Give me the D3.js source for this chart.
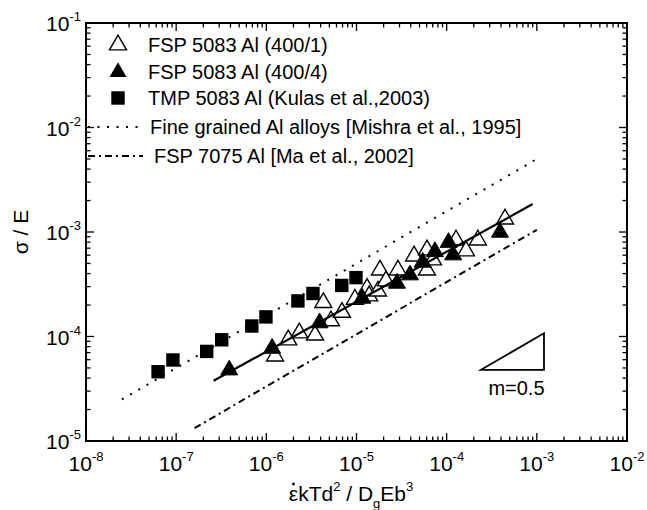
<!DOCTYPE html>
<html><head><meta charset="utf-8">
<script src="https://cdn.jsdelivr.net/npm/d3@7"></script>
<style>body{margin:0;background:#fff}svg{display:block}text{font-family:"Liberation Sans",Arial,sans-serif;fill:#000}</style>
</head><body>
<svg id="c" width="647" height="510"></svg>
<script>
// ---- data ----
const open400_1 = [
  [1.25e-6,6.5e-5],[1.75e-6,9.27e-5],[2.32e-6,1.08e-4],[3.47e-6,1.03e-4],[4.29e-6,2.11e-4],
  [5.21e-6,1.41e-4],[6.9e-6,1.70e-4],[9.6e-6,2.27e-4],[1.31e-5,2.89e-4],[1.38e-5,2.44e-4],
  [1.73e-5,2.72e-4],[1.82e-5,4.32e-4],[2.12e-5,3.40e-4],[2.88e-5,4.32e-4],[4.35e-5,5.89e-4],
  [6.05e-5,4.32e-4],[6.05e-5,6.73e-4],[7.05e-5,5.40e-4],[1.27e-4,8.37e-4],[1.64e-4,6.58e-4],
  [2.22e-4,8.37e-4],[4.44e-4,1.33e-3]
];
const filled400_4 = [
  [3.88e-7,4.78e-5],[1.16e-6,7.7e-5],[3.89e-6,1.35e-4],[1.16e-5,2.32e-4],[2.81e-5,3.23e-4],
  [3.92e-5,3.88e-4],[5.42e-5,5.13e-4],[7.41e-5,6.48e-4],[1.05e-4,7.94e-4],[1.18e-4,6.03e-4],
  [3.9e-4,9.93e-4]
];
const tmpKulas = [
  [6.3e-8,4.6e-5],[9.2e-8,5.96e-5],[2.18e-7,7.2e-5],[3.2e-7,9.3e-5],[6.9e-7,1.26e-4],
  [9.9e-7,1.54e-4],[2.24e-6,2.19e-4],[3.29e-6,2.58e-4],[6.86e-6,3.08e-4],[9.87e-6,3.66e-4]
];
const fitLine = [[2.6e-7,3.77e-5],[9.0e-4,1.85e-3]];
const mishraLine = [[2.5e-8,2.5e-5],[1e-3,5e-3]];
const maLine = [[1.6e-7,1.33e-5],[1e-3,1.05e-3]];
const slopeTri = [[2.4e-4,4.8e-5],[1.2e-3,4.8e-5],[1.2e-3,1.073e-4]];
const slopeLabel = "m=0.5";
const xDomain = [1e-8,1e-2];
const yDomain = [1e-5,1e-1];
const legendLabels = ["FSP 5083 Al (400/1)","FSP 5083 Al (400/4)","TMP 5083 Al (Kulas et al.,2003)",
  "Fine grained Al alloys [Mishra et al., 1995]","FSP 7075 Al [Ma et al., 2002]"];

// ---- layout ----
const L=86,R=627,T=23,B=441;
const svg=d3.select("#c");
const x=d3.scaleLog().domain(xDomain).range([L,R]);
const y=d3.scaleLog().domain(yDomain).range([B,T]);
const isMajor=v=>Math.abs(Math.log10(v)-Math.round(Math.log10(v)))<1e-6;
const xt=x.ticks(), yt=y.ticks();
const g=svg.append("g");

// ticks (inside, mirrored)
const tk=g.append("g").attr("stroke","#000").attr("stroke-width",1.3);
xt.forEach(v=>{const l=isMajor(v)?8:4.5;const px=x(v);
  tk.append("line").attr("x1",px).attr("x2",px).attr("y1",B).attr("y2",B-l);
  tk.append("line").attr("x1",px).attr("x2",px).attr("y1",T).attr("y2",T+l);});
yt.forEach(v=>{const l=isMajor(v)?8:4.5;const py=y(v);
  tk.append("line").attr("y1",py).attr("y2",py).attr("x1",L).attr("x2",L+l);
  tk.append("line").attr("y1",py).attr("y2",py).attr("x1",R).attr("x2",R-l);});

// tick labels
xt.filter(isMajor).forEach(v=>{
  const t=g.append("text").attr("x",x(v)).attr("y",B+30).attr("text-anchor","middle").attr("font-size",21);
  t.append("tspan").text("10");
  t.append("tspan").attr("font-size",13).attr("dy",-10).text(Math.round(Math.log10(v)));
});
yt.filter(isMajor).forEach(v=>{
  const t=g.append("text").attr("x",81).attr("y",y(v)+8).attr("text-anchor","end").attr("font-size",21);
  t.append("tspan").text("10");
  t.append("tspan").attr("font-size",13).attr("dy",-10).text(Math.round(Math.log10(v)));
});

// axis titles
const xtit=g.append("text").attr("x",351).attr("y",501).attr("text-anchor","middle").attr("font-size",21);
xtit.append("tspan").text("\u03B5kTd");
xtit.append("tspan").attr("font-size",13).attr("dy",-10).text("2");
xtit.append("tspan").attr("dy",10).text(" / D");
xtit.append("tspan").attr("font-size",13).attr("dy",7).text("g");
xtit.append("tspan").attr("dy",-7).text("Eb");
xtit.append("tspan").attr("font-size",13).attr("dy",-10).text("3");
// dot over epsilon
try{const bb=xtit.node().getExtentOfChar(0);
  g.append("circle").attr("cx",bb.x+bb.width/2).attr("cy",501-17).attr("r",1.4).attr("fill","#000");}catch(e){}
g.append("text").attr("transform","translate(28,232) rotate(-90)").attr("text-anchor","middle")
  .attr("font-size",21).text("\u03C3 / E");

// reference lines
const line=d3.line().x(d=>x(d[0])).y(d=>y(d[1]));
g.append("path").attr("d",line(mishraLine)).attr("fill","none").attr("stroke","#000")
  .attr("stroke-width",2).attr("stroke-dasharray","2,7.5");
g.append("path").attr("d",line(maLine)).attr("fill","none").attr("stroke","#000")
  .attr("stroke-width",2).attr("stroke-dasharray","7,4,2,4");

// markers
const tri=d3.symbol(d3.symbolTriangle,125)();
const sq=d3.symbol(d3.symbolSquare,180)();
g.append("g").selectAll("path").data(open400_1).join("path").attr("d",tri)
  .attr("transform",d=>`translate(${x(d[0])},${y(d[1])})`).attr("fill","#fff").attr("stroke","#000").attr("stroke-width",1.4);
g.append("g").selectAll("path").data(filled400_4).join("path").attr("d",tri)
  .attr("transform",d=>`translate(${x(d[0])},${y(d[1])})`).attr("fill","#000").attr("stroke","#000").attr("stroke-width",1);
g.append("g").selectAll("path").data(tmpKulas).join("path").attr("d",sq)
  .attr("transform",d=>`translate(${x(d[0])},${y(d[1])})`).attr("fill","#000");
g.append("path").attr("d",line(fitLine)).attr("fill","none").attr("stroke","#000").attr("stroke-width",2.2);

// slope triangle
g.append("path").attr("d",line(slopeTri)+"Z").attr("fill","none").attr("stroke","#000").attr("stroke-width",1.8);
g.append("text").attr("x",(x(slopeTri[0][0])+x(slopeTri[1][0]))/2+4).attr("y",y(slopeTri[0][1])+25)
  .attr("text-anchor","middle").attr("font-size",20).text(slopeLabel);

// frame
g.append("rect").attr("x",L).attr("y",T).attr("width",R-L).attr("height",B-T)
  .attr("fill","none").attr("stroke","#000").attr("stroke-width",2);

// legend
const lg=g.append("g");
const rows=[45,72,98,127,156];
lg.append("path").attr("d",tri).attr("transform",`translate(118,${rows[0]})`).attr("fill","#fff").attr("stroke","#000").attr("stroke-width",1.4);
lg.append("path").attr("d",tri).attr("transform",`translate(118,${rows[1]})`).attr("fill","#000");
lg.append("path").attr("d",sq).attr("transform",`translate(118,${rows[2]})`).attr("fill","#000");
lg.append("line").attr("x1",88).attr("x2",145).attr("y1",rows[3]).attr("y2",rows[3]).attr("stroke","#000").attr("stroke-width",2).attr("stroke-dasharray","2,7.5");
lg.append("line").attr("x1",88).attr("x2",143).attr("y1",rows[4]).attr("y2",rows[4]).attr("stroke","#000").attr("stroke-width",2).attr("stroke-dasharray","7,4,2,4");
const tx=[148,148,148,150,154];
legendLabels.forEach((s,i)=>lg.append("text").attr("x",tx[i]).attr("y",rows[i]+7).attr("font-size",20).text(s));
</script>
</body></html>
